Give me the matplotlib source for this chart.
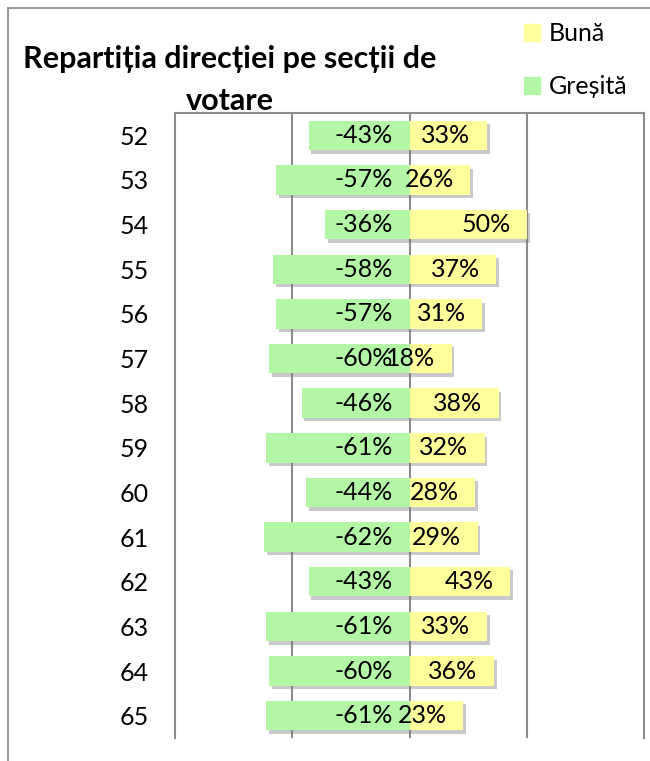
import matplotlib
matplotlib.use("Agg")
import matplotlib.pyplot as plt
from matplotlib.patches import Rectangle, Patch
import matplotlib.patheffects as pe

plt.rcParams['font.family'] = ['Lato', 'DejaVu Sans']

sections = ["52", "53", "54", "55", "56", "57", "58", "59", "60", "61", "62", "63", "64", "65"]
buna = [33, 26, 50, 37, 31, 18, 38, 32, 28, 29, 43, 33, 36, 23]
gresita = [-43, -57, -36, -58, -57, -60, -46, -61, -44, -62, -43, -61, -60, -61]
title_lines = ["Repartiția direcției pe secții de", "votare"]
legend_labels = ["Bună", "Greșită"]

col_buna = "#FFFF9C"
col_gres = "#B3F7A6"
grid_col = "#8C8C8C"

fig = plt.figure(figsize=(6.5, 7.61), dpi=100)
W, H = 650, 761
ax = fig.add_axes([175 / W, 1 - 738 / H, (644 - 175) / W, (738 - 113) / H])

y = list(range(len(sections)))
shadow = [pe.SimplePatchShadow(offset=(2, -2.5), shadow_rgbFace="#7a7a7a", alpha=0.4), pe.Normal()]
bars_g = ax.barh(y, gresita, height=0.66, color=col_gres, zorder=3)
bars_b = ax.barh(y, buna, height=0.66, color=col_buna, zorder=3)
for b in list(bars_g) + list(bars_b):
    b.set_path_effects(shadow)

for i, (g, b) in enumerate(zip(gresita, buna)):
    ax.text(-7.2, i, f"{g}%", ha="right", va="center", fontsize=18, zorder=5)
    ax.text(b - 7.0, i, f"{b}%", ha="right", va="center", fontsize=18, zorder=5)

ax.set_xlim(-100, 100)
ax.set_ylim(len(sections) - 0.5, -0.5)
ax.set_xticks([-50, 0, 50])
ax.xaxis.grid(True, color=grid_col, linewidth=1.5, zorder=1)
ax.tick_params(axis="x", length=0, labelbottom=False)
ax.set_yticks(y)
ax.set_yticklabels(sections, fontsize=18)
ax.tick_params(axis="y", length=0, pad=19)
for s in ["left", "right", "top"]:
    ax.spines[s].set_color(grid_col)
    ax.spines[s].set_linewidth(1.5)
ax.spines["bottom"].set_visible(False)
ax.set_axisbelow(True)

# outer chart border (extends past figure edge)
fig.add_artist(Rectangle((8 / W, -0.1), 1.2, 1 - 8 / H + 0.1, transform=fig.transFigure,
                         fill=False, edgecolor="#9a9a9a", linewidth=1.5))

fig.text(230 / W, 1 - 59 / H, title_lines[0], ha="center", va="center", fontsize=22, fontweight="bold")
fig.text(230 / W, 1 - 101 / H, title_lines[1], ha="center", va="center", fontsize=22, fontweight="bold")

handles = [Patch(color=col_buna), Patch(color=col_gres)]
fig.legend(handles, legend_labels, loc="upper left", bbox_to_anchor=(524 / W, 1 - 22 / H),
           frameon=False, fontsize=18, handlelength=0.65, handleheight=0.65,
           handletextpad=0.35, labelspacing=1.2, borderpad=0, borderaxespad=0)

fig.savefig("out.png", dpi=100)
